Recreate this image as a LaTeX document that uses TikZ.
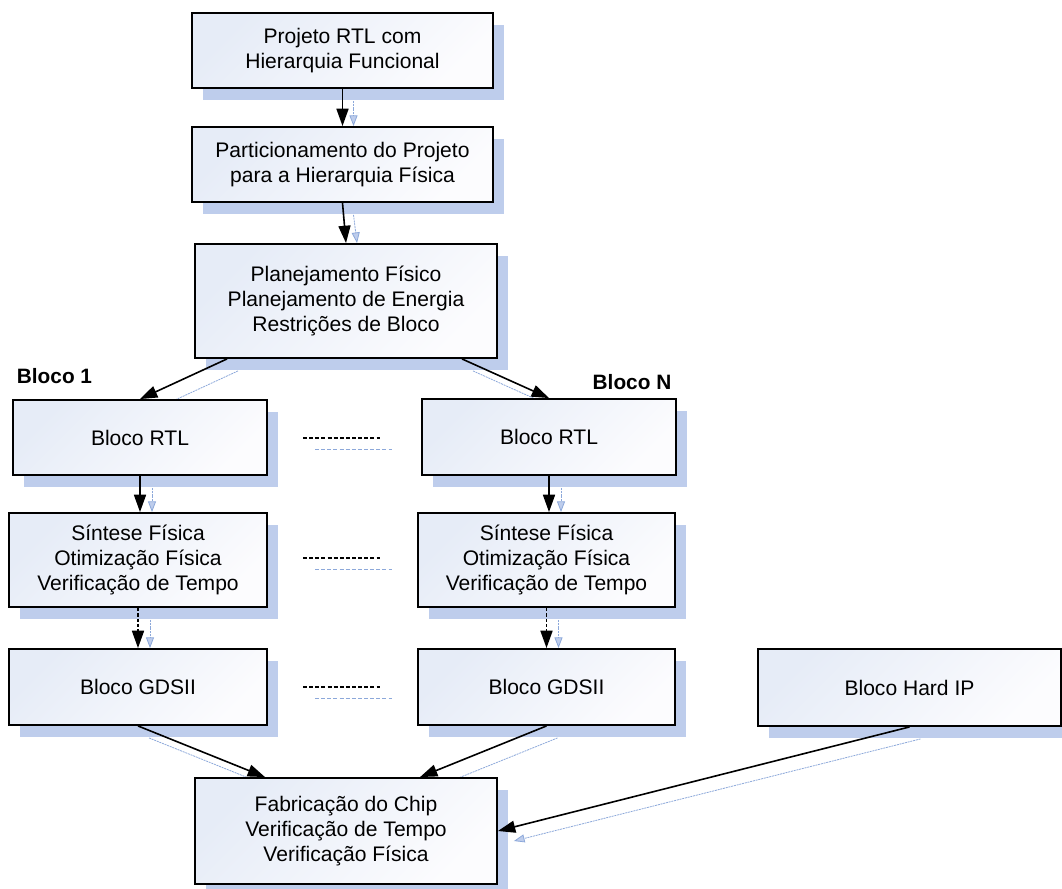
\documentclass[tikz,border=0pt]{standalone}
\usepackage{fontspec}
\setmainfont{Liberation Sans}
\usetikzlibrary{arrows.meta,shadows,calc}
\pgfdeclarelayer{background}
\pgfsetlayers{background,main}
\definecolor{shadowblue}{RGB}{190,205,236}
\definecolor{shadowline}{RGB}{140,168,218}
\definecolor{boxtop}{RGB}{230,236,247}
\definecolor{boxbot}{RGB}{252,252,254}
\tikzset{
  flowbox/.style={draw=black, line width=1.4pt, inner sep=0pt, align=center,
    top color=boxtop, bottom color=boxbot, shading angle=45,
    font=\fontsize{15.8}{18.75}\selectfont,
    drop shadow={shadow xshift=8.25pt, shadow yshift=-9pt, fill=shadowblue, opacity=1, draw=none}},
  sz/.style 2 args={minimum width=#1*0.75pt, minimum height=#2*0.75pt},
  blabel/.style={inner sep=0pt, font=\bfseries\fontsize{15.6}{18}\selectfont},
  conn/.style={line width=1.2pt, -{Triangle[length=13pt,width=9pt]}},
  dconn/.style={conn, dash pattern=on 2.5pt off 1.5pt},
  shconn/.style={draw=shadowline, line width=0.6pt, dash pattern=on 1.5pt off 0.6pt,
    -{Triangle[length=8pt,width=6pt,fill=shadowblue,color=shadowline]}},
  dotline/.style={line width=0.8pt, dash pattern=on 3pt off 1.6pt},
  shdotline/.style={draw=shadowline, line width=0.6pt, dash pattern=on 3pt off 1.6pt}
}
\begin{document}
\begin{tikzpicture}[x=0.75pt, y=-0.75pt]
\useasboundingbox (0,0) rectangle (1062,888);
\clip (0,0) rectangle (1062,888);

% process boxes
\node[flowbox, sz={301}{75}]  (top)  at (342.5,50.5) {Projeto RTL com\\Hierarquia Funcional};
\node[flowbox, sz={301}{75}]  (part) at (342.5,164.5) {Particionamento do Projeto\\para a Hierarquia Física};
\node[flowbox, sz={302}{114}] (plan) at (346,301) {Planejamento Físico\\Planejamento de Energia\\Restrições de Bloco};

\node[blabel] (lb1) at (54.5,376) {Bloco 1};
\node[blabel] (lbn) at (632,382) {Bloco N};

\node[flowbox, sz={254}{75}]  (r1) at (140,437.5) {Bloco RTL};
\node[flowbox, sz={254}{76}]  (rn) at (549,437) {Bloco RTL};
\node[flowbox, sz={258}{94}]  (s1) at (138,560) {Síntese Física\\Otimização Física\\Verificação de Tempo};
\node[flowbox, sz={257}{94}]  (sn) at (546.5,560) {Síntese Física\\Otimização Física\\Verificação de Tempo};
\node[flowbox, sz={258}{76}]  (g1) at (138,687) {Bloco GDSII};
\node[flowbox, sz={257}{76}]  (gn) at (546.5,687) {Bloco GDSII};
\node[flowbox, sz={303}{77}]  (hip) at (909.5,687.5) {Bloco Hard IP};
\node[flowbox, sz={302}{106}] (fab) at (346,831) {Fabricação do Chip\\Verificação de Tempo\\Verificação Física};

% ellipsis lines between the block columns
\coordinate (e1a) at (303,438); \coordinate (e1b) at (380,438);
\coordinate (e2a) at (303,558); \coordinate (e2b) at (380,558);
\coordinate (e3a) at (303,687); \coordinate (e3b) at (380,687);
\draw[dotline] (e1a) -- (e1b);
\draw[dotline] (e2a) -- (e2b);
\draw[dotline] (e3a) -- (e3b);

% connector shadows
\begin{pgfonlayer}{background}
\draw[shconn] ([shift={(11,12)}]top.south) -- ([shift={(11,0)}]part.north);
\draw[shconn] ([shift={(11,12)}]part.south) -- ([shift={(11,0)}]plan.north);
\draw[shconn] ($(plan.south)+(-108,12)$) -- ([shift={(11,12)}]r1.north);
\draw[shconn] ($(plan.south)+(127,12)$) -- ([shift={(11,12)}]rn.north);
\draw[shconn] ([shift={(12,12)}]r1.south) -- ([shift={(12,0)}]r1.south |- s1.north);
\draw[shconn] ([shift={(12,12)}]rn.south) -- ([shift={(12,0)}]rn.south |- sn.north);
\draw[shconn] ([shift={(12,12)}]s1.south) -- ([shift={(12,0)}]s1.south |- g1.north);
\draw[shconn] ([shift={(12,12)}]sn.south) -- ([shift={(12,0)}]sn.south |- gn.north);
\draw[shconn] ([shift={(11,12)}]g1.south) -- ($(fab.north)+(-70,12)$);
\draw[shconn] ([shift={(11,12)}]gn.south) -- ($(fab.north)+(85,12)$);
\draw[shconn] ([shift={(11,12)}]hip.south) -- ([shift={(16,10)}]fab.east);
\draw[shdotline] ([shift={(12,11)}]e1a) -- ([shift={(12,11)}]e1b);
\draw[shdotline] ([shift={(12,11)}]e2a) -- ([shift={(12,11)}]e2b);
\draw[shdotline] ([shift={(12,11)}]e3a) -- ([shift={(12,11)}]e3b);
\end{pgfonlayer}

% connectors
\draw[conn] (top.south) -- (part.north);
\draw[conn] (part.south) -- (plan.north);
\draw[conn] ($(plan.south)+(-119,0)$) -- (r1.north);
\draw[conn] ($(plan.south)+(116,0)$) -- (rn.north);
\draw[conn] (r1.south) -- (r1.south |- s1.north);
\draw[conn] (rn.south) -- (rn.south |- sn.north);
\draw[dconn] (s1.south) -- (s1.south |- g1.north);
\draw[dconn] (sn.south) -- (sn.south |- gn.north);
\draw[conn] (g1.south) -- ($(fab.north)+(-81,0)$);
\draw[conn] (gn.south) -- ($(fab.north)+(74,0)$);
\draw[conn] (hip.south) -- (fab.east);
\end{tikzpicture}
\end{document}
